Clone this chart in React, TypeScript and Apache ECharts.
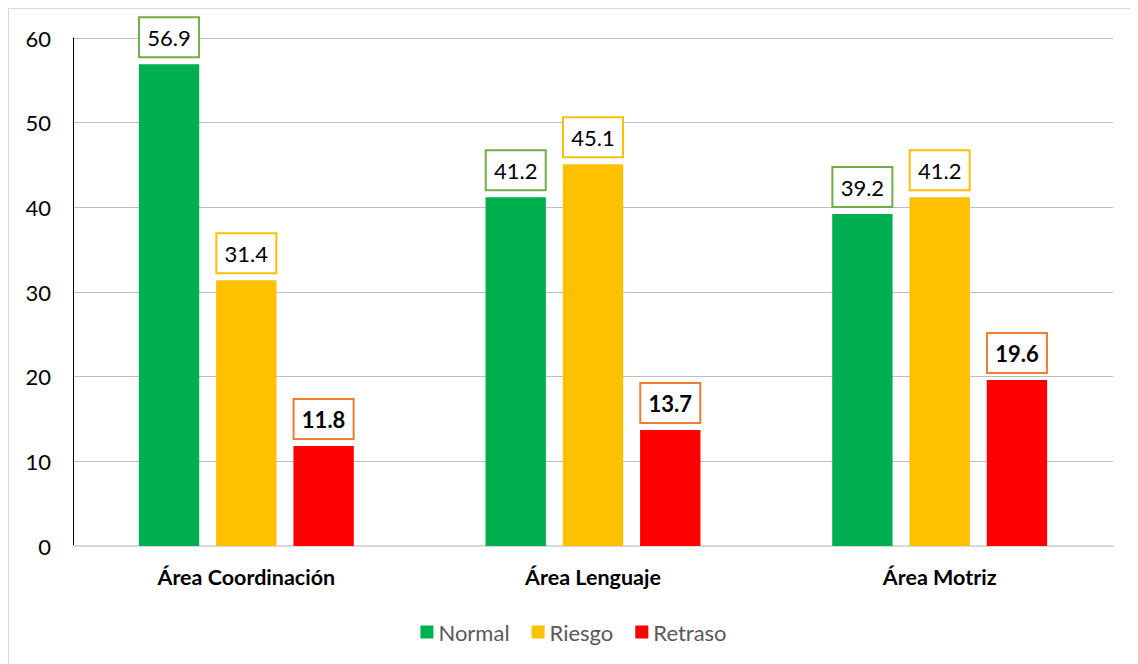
import React, { useEffect, useRef } from "react";
import * as echarts from "echarts";

const categories = ["Área Coordinación", "Área Lenguaje", "Área Motriz"];
const normalValues = [56.9, 41.2, 39.2];
const riesgoValues = [31.4, 45.1, 41.2];
const retrasoValues = [11.8, 13.7, 19.6];
const seriesNames = ["Normal", "Riesgo", "Retraso"];
const yTicks = [0, 10, 20, 30, 40, 50, 60];

const FONT = "Lato, 'Open Sans', sans-serif";

function makeSeries(name: string, data: number[], color: string, border: string, bold: boolean) {
  return {
    name,
    type: "bar",
    data,
    barGap: "28%",
    barCategoryGap: "38%",
    itemStyle: { color },
    label: {
      show: true,
      position: "top",
      distance: 8,
      formatter: (p: any) => p.value.toFixed(1),
      color: "#000",
      fontFamily: FONT,
      fontSize: 22,
      fontWeight: bold ? "bold" : "normal",
      backgroundColor: "#fff",
      borderColor: border,
      borderWidth: 2,
      width: 44,
      lineHeight: 24,
      align: "center",
      padding: [7, 7],
    },
  };
}

export default function App() {
  const ref = useRef<HTMLDivElement>(null);
  useEffect(() => {
    if (!ref.current) return;
    const chart = echarts.init(ref.current, undefined, { renderer: "svg" });
    chart.setOption({
      animation: false,
      backgroundColor: "#fff",
      grid: { left: 64, right: 25, top: 29, bottom: 118 },
      legend: {
        data: seriesNames,
        top: 607,
        left: "center",
        itemWidth: 13,
        itemHeight: 13,
        itemGap: 22,
        icon: "rect",
        textStyle: { color: "#595959", fontSize: 22, fontFamily: FONT },
      },
      xAxis: {
        type: "category",
        data: categories,
        axisTick: { show: false },
        axisLine: { show: true, lineStyle: { color: "#d9d9d9", width: 2 } },
        axisLabel: {
          color: "#000",
          fontWeight: "bold",
          fontSize: 21.5,
          fontFamily: FONT,
          margin: 20,
        },
      },
      yAxis: {
        type: "value",
        min: yTicks[0],
        max: yTicks[yTicks.length - 1],
        interval: 10,
        axisLine: { show: true, lineStyle: { color: "#000", width: 1 } },
        axisTick: { show: false },
        splitLine: { lineStyle: { color: "#bfbfbf", width: 1 } },
        axisLabel: {
          color: "#000",
          fontSize: 22,
          fontFamily: FONT,
          margin: 22,
        },
      },
      series: [
        makeSeries(seriesNames[0], normalValues, "#00b050", "#70ad47", false),
        makeSeries(seriesNames[1], riesgoValues, "#ffc000", "#ffc000", false),
        makeSeries(seriesNames[2], retrasoValues, "#ff0000", "#ed7d31", true),
      ],
    });
    return () => chart.dispose();
  }, []);
  return (
    <div
      style={{
        width: 1130,
        height: 656,
        borderTop: "1px solid #d9d9d9",
        borderLeft: "1px solid #d9d9d9",
        boxSizing: "border-box",
        overflow: "hidden",
      }}
    >
      <div ref={ref} style={{ width: 1129, height: 655 }} />
    </div>
  );
}
